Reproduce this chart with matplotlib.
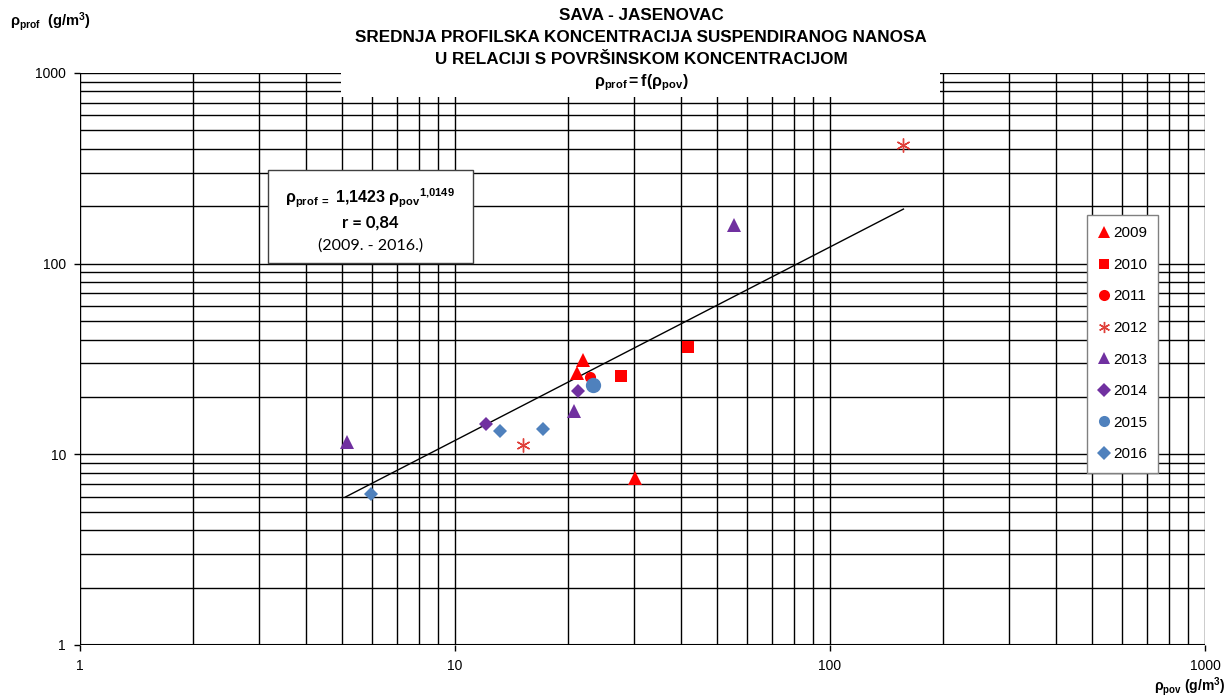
import matplotlib
matplotlib.use("Agg")
import matplotlib.pyplot as plt
from matplotlib.lines import Line2D
from matplotlib.patches import Rectangle
import numpy as np

plt.rcParams['font.family'] = ['Liberation Sans', 'DejaVu Sans']
plt.rcParams['mathtext.fontset'] = 'custom'
plt.rcParams['mathtext.rm'] = 'Liberation Sans'
plt.rcParams['mathtext.it'] = 'Liberation Sans'
plt.rcParams['mathtext.bf'] = 'Liberation Sans:bold'

# ---- data ----
years = ['2009', '2010', '2011', '2012', '2013', '2014', '2015', '2016']
x_2009 = [21.9, 21.2, 30.2]
y_2009 = [31.2, 26.7, 7.5]
x_2010 = [27.7, 41.8]
y_2010 = [25.7, 36.5]
x_2011 = [22.9]
y_2011 = [25.4]
x_2012 = [15.2, 157.0]
y_2012 = [11.2, 419.0]
x_2013 = [5.15, 20.8, 55.5]
y_2013 = [11.6, 16.9, 159.0]
x_2014 = [12.1, 21.3]
y_2014 = [14.4, 21.5]
x_2015 = [23.3]
y_2015 = [23.1]
x_2016 = [5.97, 13.2, 17.2]
y_2016 = [6.19, 13.3, 13.6]
coef_a = 1.1423
coef_b = 1.0149
fit_x_range = [5.1, 157.0]

RED = '#FF0000'
PURPLE = '#7030A0'
BLUE = '#4F81BD'
STAR_RED = '#E0403A'

series = [
    (x_2009, y_2009, '^', RED, 10),
    (x_2010, y_2010, 's', RED, 8),
    (x_2011, y_2011, 'o', RED, 8),
    (x_2012, y_2012, (6, 2, 0), STAR_RED, 10),
    (x_2013, y_2013, '^', PURPLE, 10),
    (x_2014, y_2014, 'D', PURPLE, 7),
    (x_2015, y_2015, 'o', BLUE, 11),
    (x_2016, y_2016, 'D', BLUE, 7),
]

fig = plt.figure(figsize=(12.27, 6.97), dpi=100)
ax = fig.add_axes([80/1227, 1-645/697, 1125/1227, 572/697])
ax.set_xscale('log')
ax.set_yscale('log')
ax.set_xlim(1, 1000)
ax.set_ylim(1, 1000)

ax.grid(True, which='both', color='black', linewidth=1.0)
ax.set_axisbelow(True)
for s in ax.spines.values():
    s.set_visible(False)
ax.axhline(1, color='black', lw=1.5, zorder=1)

ax.set_xticks([1, 10, 100, 1000])
ax.set_xticklabels(['1', '10', '100', '1000'])
ax.set_yticks([1, 10, 100, 1000])
ax.set_yticklabels(['1', '10', '100', '1000'])
ax.tick_params(which='major', length=4, width=1, labelsize=10, pad=6)
ax.tick_params(which='minor', length=0)
ax.minorticks_on()

# fit line
fx = np.array(fit_x_range)
fxx = np.logspace(np.log10(fx[0]), np.log10(fx[1]), 50)
ax.plot(fxx, coef_a * fxx ** coef_b, color='black', lw=1.0, zorder=3)

handles = []
for (xs, ys, m, c, ms), yr in zip(series, years):
    if isinstance(m, tuple):
        ax.plot(xs, ys, linestyle='none', marker=m, color=c, markersize=ms,
                markeredgewidth=1.0, zorder=4)
        h = Line2D([], [], linestyle='none', marker=m, color=c, markersize=8, markeredgewidth=1.0)
    else:
        ax.plot(xs, ys, linestyle='none', marker=m, color=c, markersize=ms,
                markeredgewidth=0, zorder=4)
        h = Line2D([], [], linestyle='none', marker=m, color=c, markersize=7 if m in ('s', 'D') else 8,
                   markeredgewidth=0)
    handles.append(h)

leg = ax.legend(handles, years, loc='upper left', bbox_to_anchor=(0.895, 0.752),
                frameon=True, fancybox=False, edgecolor='#808080', framealpha=1,
                fontsize=11, labelspacing=1.15, handlelength=0.8, handletextpad=0.15,
                borderpad=0.75, borderaxespad=0)
leg.get_frame().set_linewidth(1.0)
leg.set_zorder(6)

# equation box
ax.add_patch(Rectangle((0.167, 0.668), 0.182, 0.162, transform=ax.transAxes,
                       facecolor='white', edgecolor='#404040', lw=1.0, zorder=5))
ax.text(0.258, 0.781, r'$\mathbf{ρ_{prof\ =}}$' + r' $\mathbf{1{,}1423\ ρ_{pov}}^{\mathbf{1{,}0149}}$',
        transform=ax.transAxes, ha='center', va='center', fontsize=11.5, zorder=6)
ax.text(0.258, 0.738, 'r = 0,84', transform=ax.transAxes, ha='center', va='center',
        fontsize=12, fontweight='bold', zorder=6, family=['Lato', 'DejaVu Sans'])
ax.text(0.258, 0.698, '(2009. - 2016.)', transform=ax.transAxes, ha='center', va='center',
        fontsize=11.5, zorder=6, family=['Lato', 'DejaVu Sans'])

# title white box
fig.patches.append(Rectangle((341/1227, 1-97/697), (940-341)/1227, 97/697,
                             transform=fig.transFigure, facecolor='white',
                             edgecolor='none', zorder=2))
cx = 641/1227
fs_t = 12.3
fig.text(cx, 1-16/697, 'SAVA - JASENOVAC', ha='center', va='center', fontsize=fs_t,
         fontweight='bold', zorder=3)
fig.text(cx, 1-38/697, 'SREDNJA PROFILSKA KONCENTRACIJA SUSPENDIRANOG NANOSA', ha='center',
         va='center', fontsize=fs_t, fontweight='bold', zorder=3)
fig.text(cx, 1-60/697, 'U RELACIJI S POVRŠINSKOM KONCENTRACIJOM', ha='center', va='center',
         fontsize=fs_t, fontweight='bold', zorder=3)
fig.text(cx, 1-83/697, r'$\mathbf{ρ_{prof}=f(ρ_{pov})}$', ha='center', va='center',
         fontsize=11.5, zorder=3)

# axis labels
fig.text(10/1227, 1-22/697, r'$\mathbf{ρ_{prof}}$  $\mathbf{(g/m^3)}$', ha='left', va='center',
         fontsize=10.5)
fig.text(1225/1227, 1-687/697, r'$\mathbf{ρ_{pov}}$ $\mathbf{(g/m^3)}$', ha='right', va='center',
         fontsize=10)

fig.savefig('out.png', dpi=100, facecolor='white')
